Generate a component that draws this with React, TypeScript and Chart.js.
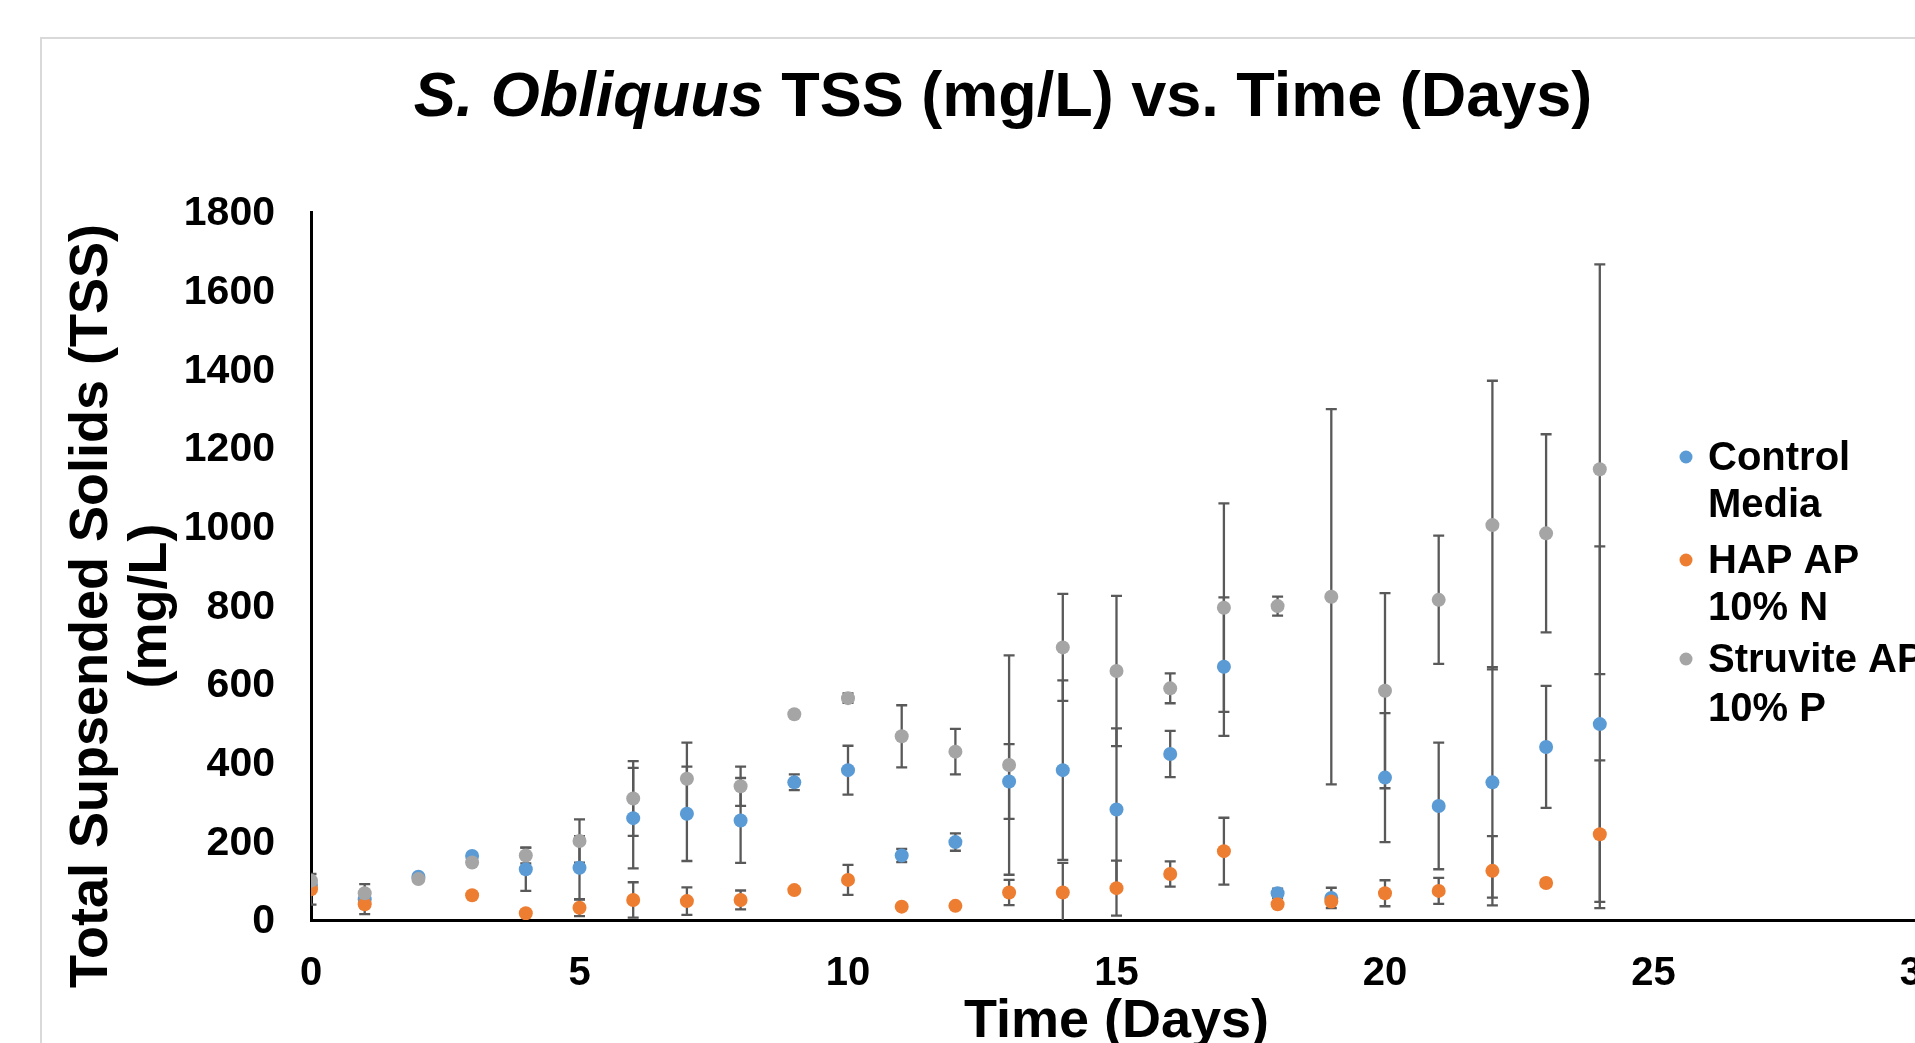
import React, { useEffect, useRef } from 'react';
import { Chart, registerables } from 'chart.js';

Chart.register(...registerables);

// ---------- data ----------
const DAYS = [0, 1, 2, 3, 4, 5, 6, 7, 8, 9, 10, 11, 12, 13, 14, 15, 16, 17, 18, 19, 20, 21, 22, 23, 24];

const CONTROL = [89, 53, 110, 163, 129, 133, 259, 270, 253, 350, 381, 164, 198, 352, 381, 281, 422, 644, 68, 56, 362, 290, 350, 440, 498];
const CONTROL_ERR = [5, 38, 5, 5, 55, 80, 128, 120, 108, 20, 62, 17, 22, 95, 228, 206, 59, 176, 12, 26, 164, 161, 293, 155, 452];

const HAP = [78, 40, null, 63, 17, 31, 51, 48, 51, 76, 102, 34, 36, 70, 70, 81, 117, 175, 40, 47, 68, 74, 125, 94, 218];
const HAP_ERR = [39, 8, 0, 5, 5, 21, 45, 35, 24, 5, 38, 5, 5, 32, 75, 70, 32, 85, 5, 5, 33, 33, 88, 8, 188];

const STRUVITE = [100, 68, 104, 146, 164, 201, 309, 359, 340, 523, 564, 467, 428, 394, 693, 633, 589, 794, 798, 822, 583, 814, 1004, 983, 1146];
const STRUVITE_ERR = [5, 5, 5, 5, 20, 55, 95, 92, 50, 5, 12, 79, 58, 279, 136, 191, 38, 265, 24, 477, 248, 163, 367, 252, 521];

const SERIES_NAMES = ['Control Media', 'HAP AP 10% N', 'Struvite AP 10% P'];
const LEGEND_LINES = [['Control', 'Media'], ['HAP AP', '10% N'], ['Struvite AP', '10% P']];
const SERIES_COLORS = ['#5B9BD5', '#ED7D31', '#A5A5A5'];

const X_MIN = 0;
const X_MAX = 30;
const X_STEP = 5;
const Y_MIN = 0;
const Y_MAX = 1800;
const Y_STEP = 200;

const TITLE_ITALIC = 'S. Obliquus';
const TITLE_REST = ' TSS (mg/L) vs. Time (Days)';
const X_TITLE = 'Time (Days)';
const Y_TITLE_LINES = ['Total Supsended Solids (TSS)', '(mg/L)'];

// ---------- styles ----------
const FONT = '"Liberation Sans", Arial, Helvetica, sans-serif';
const ERR_COLOR = '#595959';

const SERIES = [
  { values: CONTROL, errors: CONTROL_ERR },
  { values: HAP, errors: HAP_ERR },
  { values: STRUVITE, errors: STRUVITE_ERR },
];

const errorBarPlugin = {
  id: 'errorBars',
  beforeDatasetsDraw(chart: any) {
    const { ctx, chartArea, scales } = chart;
    const xs = scales.x;
    const ys = scales.y;
    ctx.save();
    ctx.beginPath();
    ctx.rect(chartArea.left, chartArea.top, chartArea.right - chartArea.left, chartArea.bottom - chartArea.top);
    ctx.clip();
    ctx.strokeStyle = ERR_COLOR;
    ctx.lineWidth = 2.3;
    const cap = 5.5;
    SERIES.forEach((s) => {
      s.values.forEach((v: number | null, i: number) => {
        const e = s.errors[i];
        if (v == null || !e) return;
        const px = xs.getPixelForValue(DAYS[i]);
        const top = ys.getPixelForValue(v + e);
        const bot = ys.getPixelForValue(v - e);
        ctx.beginPath();
        ctx.moveTo(px, top);
        ctx.lineTo(px, bot);
        ctx.moveTo(px - cap, top);
        ctx.lineTo(px + cap, top);
        ctx.moveTo(px - cap, bot);
        ctx.lineTo(px + cap, bot);
        ctx.stroke();
      });
    });
    ctx.restore();
  },
};

const textPlugin = {
  id: 'texts',
  afterDraw(chart: any) {
    const { ctx, chartArea } = chart;
    ctx.save();
    ctx.fillStyle = '#000';
    ctx.textBaseline = 'alphabetic';

    // title
    ctx.font = `italic bold 63px ${FONT}`;
    const w1 = ctx.measureText(TITLE_ITALIC).width;
    ctx.font = `bold 63px ${FONT}`;
    const w2 = ctx.measureText(TITLE_REST).width;
    const start = 1003 - (w1 + w2) / 2;
    ctx.textAlign = 'left';
    ctx.font = `italic bold 63px ${FONT}`;
    ctx.fillText(TITLE_ITALIC, start, 116);
    ctx.font = `bold 63px ${FONT}`;
    ctx.fillText(TITLE_REST, start + w1, 116);

    // x title
    ctx.font = `bold 54px ${FONT}`;
    ctx.textAlign = 'center';
    ctx.fillText(X_TITLE, (chartArea.left + chartArea.right) / 2, 1037);

    // y title
    const yBase = [107, 166];
    Y_TITLE_LINES.forEach((line, k) => {
      ctx.save();
      ctx.translate(yBase[k], 606);
      ctx.rotate(-Math.PI / 2);
      ctx.fillText(line, 0, 0);
      ctx.restore();
    });

    // legend
    const legendBase = [[470, 517], [573, 620], [672, 721]];
    ctx.textAlign = 'left';
    ctx.font = `bold 40px ${FONT}`;
    LEGEND_LINES.forEach((lines, k) => {
      ctx.fillStyle = SERIES_COLORS[k];
      ctx.beginPath();
      ctx.arc(1686, legendBase[k][0] - 13, 6.5, 0, Math.PI * 2);
      ctx.fill();
      ctx.fillStyle = '#000';
      lines.forEach((t, j) => ctx.fillText(t, 1708, legendBase[k][j]));
    });
    ctx.restore();
  },
};

export default function App() {
  const ref = useRef<HTMLCanvasElement>(null);

  useEffect(() => {
    const datasets = SERIES.map((s, k) => ({
      label: SERIES_NAMES[k],
      data: DAYS.map((d, i) => ({ x: d, y: s.values[i] })).filter((p) => p.y != null),
      backgroundColor: SERIES_COLORS[k],
      borderColor: SERIES_COLORS[k],
      borderWidth: 0,
      pointRadius: 7,
      pointHoverRadius: 7,
      showLine: false,
      order: 3 - k,
    }));

    const chart = new Chart(ref.current as HTMLCanvasElement, {
      type: 'scatter',
      data: { datasets: datasets as any },
      options: {
        animation: false,
        responsive: true,
        maintainAspectRatio: false,
        devicePixelRatio: 1,
        layout: { padding: { top: 212, right: 78, bottom: 0, left: 0 } },
        plugins: {
          legend: { display: false },
          title: { display: false },
          tooltip: { enabled: false },
        },
        scales: {
          x: {
            type: 'linear',
            min: X_MIN,
            max: X_MAX,
            afterFit: (scale: any) => {
              scale.height = 180;
            },
            ticks: {
              stepSize: X_STEP,
              color: '#000',
              padding: 30,
              callback: (v: any) => String(v),
              font: { family: FONT, size: 40, weight: 'bold' },
            },
            grid: { display: true, color: 'rgba(0,0,0,0)', drawTicks: false },
            border: { display: true, color: '#000', width: 3 },
          },
          y: {
            type: 'linear',
            min: Y_MIN,
            max: Y_MAX,
            afterFit: (scale: any) => {
              scale.width = 311;
            },
            ticks: {
              stepSize: Y_STEP,
              color: '#000',
              padding: 36,
              labelOffset: 2,
              callback: (v: any) => String(v),
              font: { family: FONT, size: 41, weight: 'bold' },
            },
            grid: { display: true, color: 'rgba(0,0,0,0)', drawTicks: false },
            border: { display: true, color: '#000', width: 3 },
          },
        },
      },
      plugins: [errorBarPlugin, textPlugin],
    });
    return () => chart.destroy();
  }, []);

  return (
    <div style={{ position: 'fixed', left: 0, top: 0, width: 1915, height: 1043, overflow: 'hidden', background: '#fff' }}>
      <div
        style={{
          position: 'absolute',
          left: 40,
          top: 37,
          width: 2000,
          height: 1100,
          border: '2px solid #d9d9d9',
          boxSizing: 'border-box',
        }}
      />
      <div style={{ position: 'absolute', left: 0, top: 0, width: 2000, height: 1100 }}>
        <canvas ref={ref} />
      </div>
    </div>
  );
}
